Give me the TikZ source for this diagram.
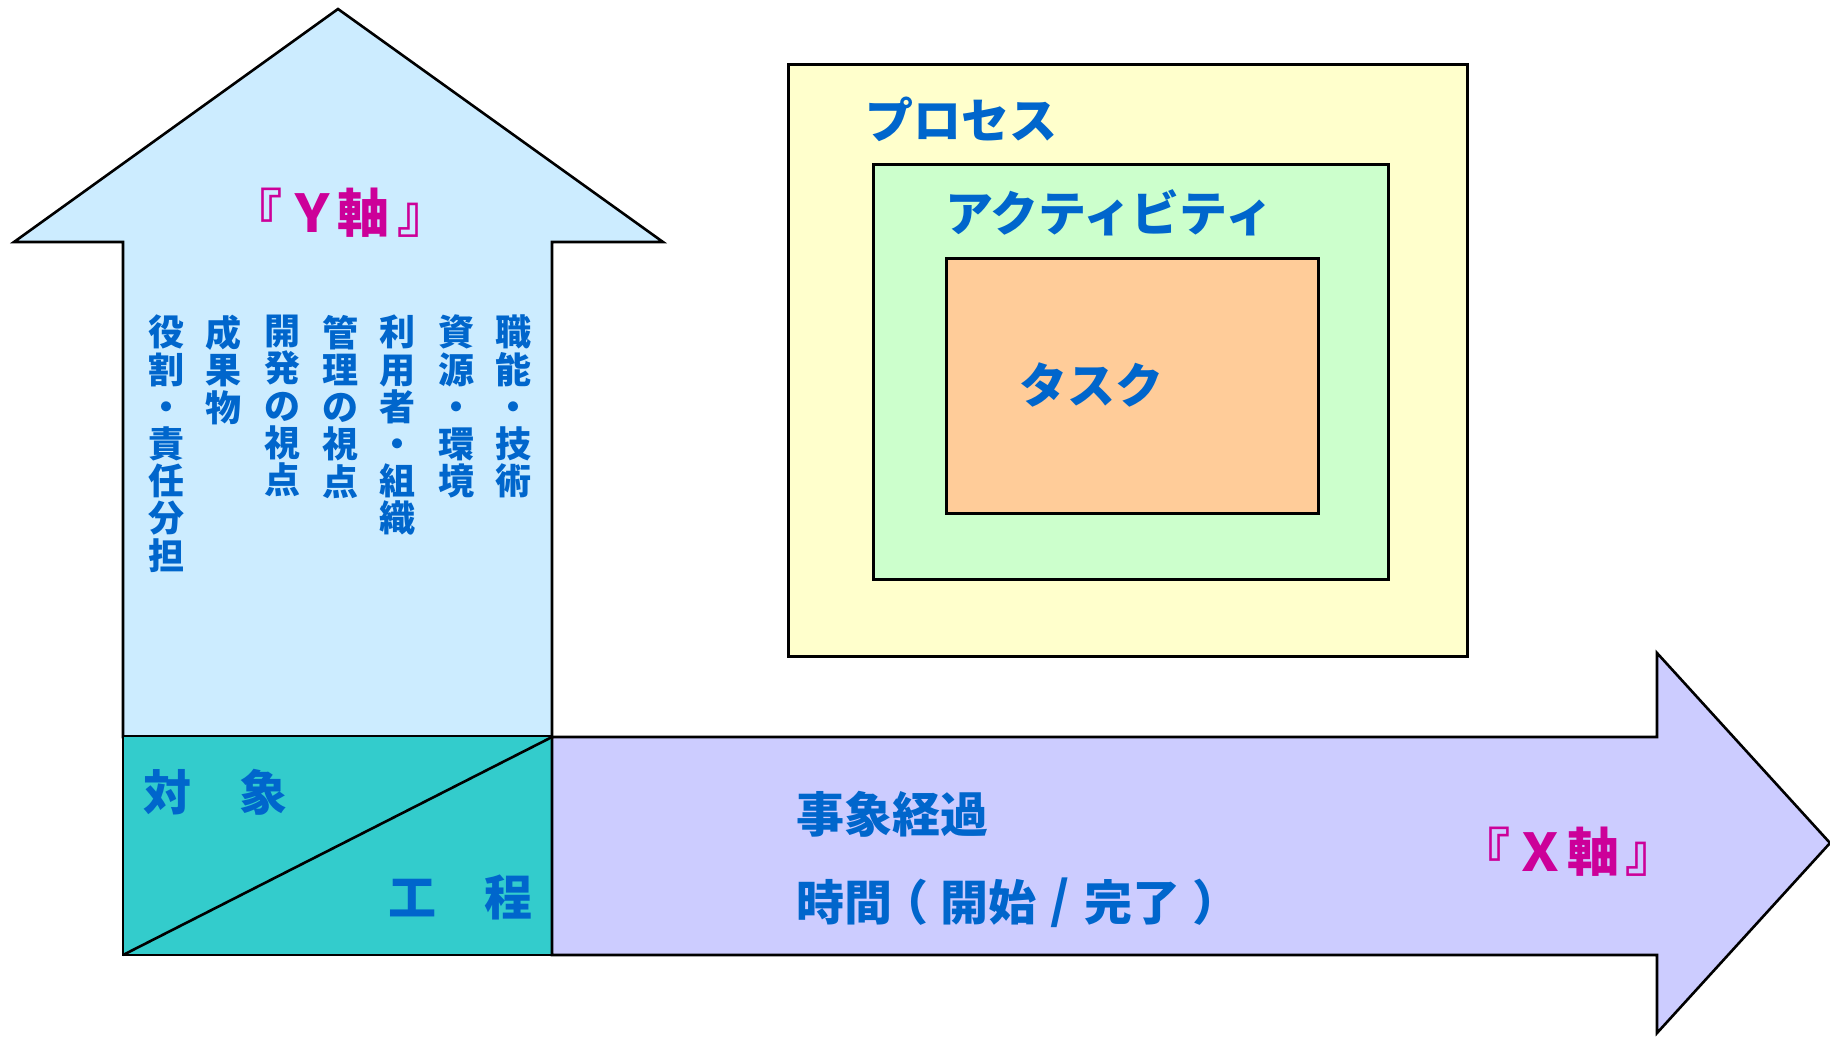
\documentclass[tikz,border=0pt]{standalone}
\usepackage{fontspec}
\setmainfont{Noto Sans CJK JP}
\definecolor{ybg}{HTML}{CCECFF}
\definecolor{teal2}{HTML}{33CCCC}
\definecolor{xbg}{HTML}{CCCCFF}
\definecolor{procbg}{HTML}{FFFFCC}
\definecolor{actbg}{HTML}{CCFFCC}
\definecolor{taskbg}{HTML}{FFCC99}
\definecolor{tblue}{HTML}{0066CC}
\definecolor{tmag}{HTML}{CC0099}
\tikzset{
  shapeline/.style={draw=black, line width=2.6pt, line join=miter},
  bigtxt/.style={font=\fontsize{48}{52}\selectfont\bfseries, text=tblue, inner sep=0pt, anchor=base west},
  axtxt/.style={font=\fontsize{52}{56}\selectfont\bfseries, text=tmag, inner sep=0pt, anchor=base},
  axbr/.style={font=\fontsize{52}{56}\selectfont\bfseries\addfontfeatures{RawFeature=+halt}, text=tmag, inner sep=0pt, anchor=base},
  vtxt/.style={font=\fontsize{36}{37.2}\selectfont\bfseries, text=tblue, inner sep=0pt, align=center, anchor=north},
}
\begin{document}
\begin{tikzpicture}[x=1pt,y=-1pt]
\useasboundingbox (0,0) rectangle (1830,1037);
% Y arrow
\draw[shapeline, fill=ybg] (338,9) -- (663,242) -- (552,242) -- (552,737) -- (123,737) -- (123,242) -- (14,242) -- cycle;
% teal box
\draw[shapeline, fill=teal2] (123,736) rectangle (552,955);
\coordinate (dA) at (123,955);
\coordinate (dB) at (552,737);
\draw[black, line width=2.6pt] (dA) -- (dB);
% X arrow
\draw[shapeline, fill=xbg] (552,737) -- (1657,737) -- (1657,653) -- (1830,843) -- (1657,1033) -- (1657,955) -- (552,955) -- cycle;
% nested boxes
\node[shapeline, fill=procbg, minimum width=679pt, minimum height=592pt, anchor=north west, inner sep=0pt] (proc) at (787,63) {};
\node[shapeline, fill=actbg, minimum width=515pt, minimum height=415pt, anchor=north west, inner sep=0pt] (act) at (872,163) {};
\node[shapeline, fill=taskbg, minimum width=372pt, minimum height=255pt, anchor=north west, inner sep=0pt] (task) at (945,257) {};
% labels
\node[bigtxt] (lproc) at (865,138) {プロセス};
\node[bigtxt] (lact) at (945,231) {アクティビティ};
\node[bigtxt] (ltask) at (1019,403) {タスク};
% Y axis label
\node[axbr] (ly1) at (269,232) {『};
\node[axtxt] (ly2) at (312,232) {Ｙ};
\node[axtxt] (ly3) at (363,232) {軸};
\node[axbr] (ly4) at (410,232) {』};
% X axis label
\node[axbr] (lx1) at (1497,871) {『};
\node[axtxt] (lx2) at (1540,871) {Ｘ};
\node[axtxt] (lx3) at (1593,871) {軸};
\node[axbr] (lx4) at (1638,871) {』};
\node[bigtxt] (ltaisho) at (143,810) {対　象};
\node[bigtxt] (lkotei) at (388,915) {工　程};
\node[bigtxt] (ljisho) at (796,832) {事象経過};
\node[bigtxt] (ljikan) at (796,920) {時間\kern-12pt（\kern12pt 開始\makebox[48pt]{\raisebox{2pt}{\fontsize{50}{50}\selectfont /}}完了\kern12pt）};
% vertical columns
\node[vtxt] (c1) at (513,315) {職\\能\\・\\技\\術};
\node[vtxt] (c2) at (456,315) {資\\源\\・\\環\\境};
\node[vtxt] (c3) at (397,315) {利\\用\\者\\・\\組\\織};
\node[vtxt] (c4) at (340,315) {管\\理\\の\\視\\点};
\node[vtxt] (c5) at (282,315) {開\\発\\の\\視\\点};
\node[vtxt] (c6) at (223,315) {成\\果\\物};
\node[vtxt] (c7) at (166,315) {役\\割\\・\\責\\任\\分\\担};
\end{tikzpicture}
\end{document}
